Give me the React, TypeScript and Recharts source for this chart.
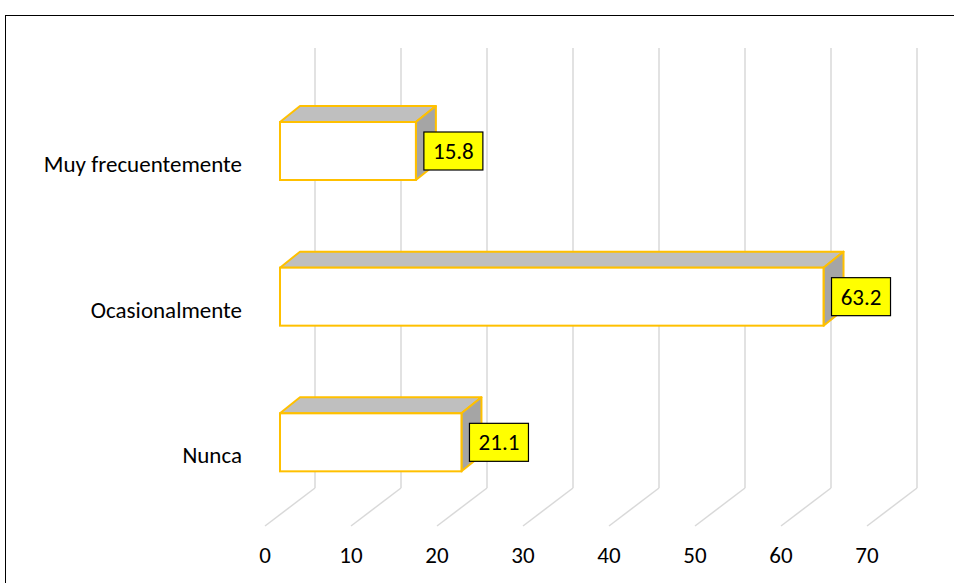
import { BarChart, Bar, XAxis, YAxis, CartesianGrid, LabelList } from 'recharts'

const categories = ['Muy frecuentemente', 'Ocasionalmente', 'Nunca']
const values = [15.8, 63.2, 21.1]
const xTicks = [0, 10, 20, 30, 40, 50, 60, 70]

const chartData = categories.map((name, i) => ({ name, value: values[i] }))

const FONT = "Carlito, Calibri, Lato, sans-serif"
const FS = 23
const GOLD = '#FFC000'
// 3d offsets
const BAR_DX = 20
const BAR_DY = -16
const WALL_DX = 35
const FLOOR_DX = -15
const WALL_TOP = 48
const FLOOR_BACK = 488
const FLOOR_FRONT = 526

function Bar3D(props: any) {
  const { x, y, width, height } = props
  const r = x + width
  return (
    <g>
      <polygon
        points={`${x},${y} ${x + BAR_DX},${y + BAR_DY} ${r + BAR_DX},${y + BAR_DY} ${r},${y}`}
        fill="#BFBFBF" stroke={GOLD} strokeWidth={2} strokeLinejoin="round"
      />
      <polygon
        points={`${r},${y} ${r + BAR_DX},${y + BAR_DY} ${r + BAR_DX},${y + height + BAR_DY} ${r},${y + height}`}
        fill="#A5A5A5" stroke={GOLD} strokeWidth={2} strokeLinejoin="round"
      />
      <rect x={x} y={y} width={width} height={height} fill="#FFFFFF" stroke={GOLD} strokeWidth={2} />
    </g>
  )
}

function ValueBox(props: any) {
  const { x, y, width, height, value } = props
  const bx = x + width + 8
  const cy = y + height / 2
  return (
    <g>
      <rect x={bx} y={cy - 19} width={59} height={38} fill="#FFFF00" stroke="#000" strokeWidth={1.2} />
      <text x={bx + 29.5} y={cy + 8} textAnchor="middle" fontSize={FS} fontFamily={FONT} fill="#000">
        {value}
      </text>
    </g>
  )
}

function GridLine(props: any) {
  const { x1 } = props
  const bx = x1 + WALL_DX
  return (
    <g key={props.key}>
      <line x1={bx} y1={WALL_TOP} x2={bx} y2={FLOOR_BACK} stroke="#D9D9D9" strokeWidth={1.5} />
      <line x1={bx} y1={FLOOR_BACK} x2={x1 + FLOOR_DX} y2={FLOOR_FRONT} stroke="#D9D9D9" strokeWidth={1.5} />
    </g>
  )
}

function XTick(props: any) {
  const { x, y, payload } = props
  return (
    <text x={x + FLOOR_DX} y={y + 48} textAnchor="middle" fontSize={FS} fontFamily={FONT} fill="#000">
      {payload.value}
    </text>
  )
}

function YTick(props: any) {
  const { x, y, payload } = props
  return (
    <text x={x} y={y + 21} textAnchor="end" fontSize={FS} fontFamily={FONT} fill="#000">
      {payload.value}
    </text>
  )
}

export default function App() {
  return (
    <div style={{ position: 'fixed', left: 0, top: 0, width: 954, height: 583, overflow: 'hidden', background: '#fff' }}>
      <div style={{ position: 'absolute', left: 5, top: 15, width: 980, height: 620, border: '1.5px solid #000' }} />
      <div style={{ position: 'absolute', left: 0, top: 0 }}>
        <BarChart
          width={954}
          height={583}
          data={chartData}
          layout="vertical"
          margin={{ top: 78, right: 72, bottom: 28, left: 40 }}
          barSize={58}
        >
          <CartesianGrid horizontal={false} vertical={GridLine} />
          <XAxis
            type="number"
            domain={[0, 70]}
            ticks={xTicks}
            axisLine={false}
            tickLine={false}
            tickSize={0}
            tickMargin={0}
            height={40}
            tick={XTick}
          />
          <YAxis
            type="category"
            dataKey="name"
            width={240}
            axisLine={false}
            tickLine={false}
            tickSize={0}
            tickMargin={38}
            tick={YTick}
          />
          <Bar dataKey="value" shape={Bar3D} isAnimationActive={false}>
            <LabelList dataKey="value" content={ValueBox} />
          </Bar>
        </BarChart>
      </div>
    </div>
  )
}
